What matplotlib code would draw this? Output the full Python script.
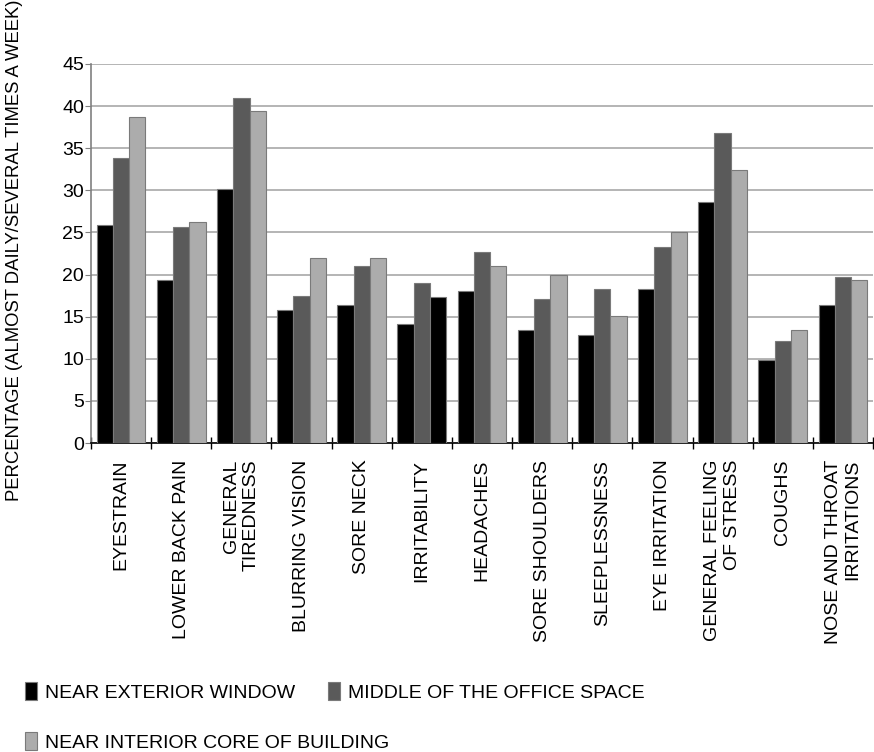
import numpy as np
import matplotlib
matplotlib.use("Agg")
import matplotlib.pyplot as plt
from matplotlib.patches import Patch

plt.rcParams['font.family'] = ['Liberation Sans', 'DejaVu Sans']
plt.rcParams['font.size'] = 14

# Symptom categories and percentages per location
symptoms = ["EYESTRAIN", "LOWER BACK PAIN", "GENERAL\nTIREDNESS", "BLURRING VISION",
            "SORE NECK", "IRRITABILITY", "HEADACHES", "SORE SHOULDERS", "SLEEPLESSNESS",
            "EYE IRRITATION", "GENERAL FEELING\nOF STRESS", "COUGHS",
            "NOSE AND THROAT\nIRRITATIONS"]
near_window = [25.9, 19.4, 30.2, 15.8, 16.4, 14.1, 18.0, 13.4, 12.8, 18.3, 28.6, 9.9, 16.4]
middle_office = [33.8, 25.6, 41.0, 17.4, 21.0, 19.0, 22.7, 17.1, 18.3, 23.3, 36.8, 12.1, 19.7]
interior_core = [38.7, 26.2, 39.4, 22.0, 22.0, 17.3, 21.0, 20.0, 15.1, 25.0, 32.4, 13.4, 19.4]

series_names = ["NEAR EXTERIOR WINDOW", "MIDDLE OF THE OFFICE SPACE",
                "NEAR INTERIOR CORE OF BUILDING"]
series_colors = ["#000000", "#5a5a5a", "#acacac"]

fig = plt.figure(figsize=(8.74, 7.52), dpi=100)
ax = fig.add_axes([91 / 874, 309 / 752, 782 / 874, 379 / 752])

x = np.arange(len(symptoms))
w = 0.27
for i, (vals, col) in enumerate(zip([near_window, middle_office, interior_core], series_colors)):
    cols = [col] * len(vals)
    if i == 2:
        # the irritability bar of the last series is printed black
        cols[5] = "#000000"
    ax.bar(x + (i - 1) * w, vals, w, color=cols, edgecolor="#7a7a7a",
           linewidth=0.8, zorder=3)

ax.set_xlim(-0.5, len(symptoms) - 0.5)
ax.set_ylim(0, 45)
ax.set_yticks(np.arange(0, 46, 5))
ax.yaxis.grid(True, color="#b4b4b4", linewidth=1.4, zorder=0)

# tick marks on category boundaries, labels at the centres
ax.set_xticks(np.arange(-0.5, len(symptoms)), labels=[""] * (len(symptoms) + 1))
ax.set_xticks(x, labels=symptoms, minor=True)
ax.tick_params(axis="x", which="major", direction="inout", length=9, width=1, color="black")
ax.tick_params(axis="x", which="minor", length=0, pad=12, labelsize=14)
for lab in ax.get_xticklabels(minor=True):
    lab.set_rotation(90)
    lab.set_va("top")
    lab.set_ha("center")
    lab.set_multialignment("right")
ax.tick_params(axis="y", direction="out", length=4, color="#808080", labelsize=14, pad=1)

for side in ["top", "right"]:
    ax.spines[side].set_visible(False)
ax.spines["left"].set_color("#808080")
ax.spines["left"].set_linewidth(1.2)
ax.spines["bottom"].set_color("black")
ax.spines["bottom"].set_linewidth(1.2)

fig.text(15 / 874, 1 - 250 / 752, "PERCENTAGE (ALMOST DAILY/SEVERAL TIMES A WEEK)",
         rotation=90, ha="center", va="center", fontsize=13.3)

handles = [Patch(facecolor=c, edgecolor="#7a7a7a", linewidth=0.8) for c in series_colors]
leg_kw = dict(frameon=False, handlelength=0.62, handleheight=1.05, handletextpad=0.4,
              borderaxespad=0, borderpad=0, fontsize=14, loc="center left")
fig.legend(handles[:2], series_names[:2], ncol=2, columnspacing=1.7,
           bbox_to_anchor=(25 / 874, 1 - 692 / 752), **leg_kw)
fig.legend(handles[2:], series_names[2:], bbox_to_anchor=(25 / 874, 1 - 742 / 752), **leg_kw)

fig.savefig("out.png", dpi=100)
